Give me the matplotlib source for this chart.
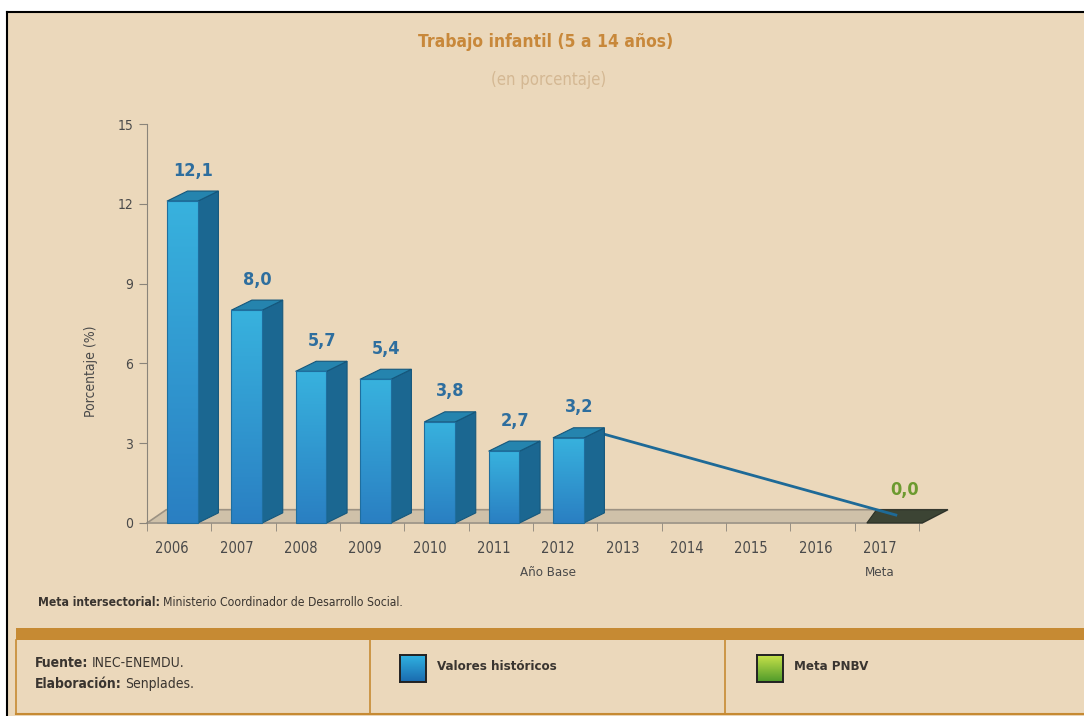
import matplotlib.pyplot as plt
from matplotlib.patches import Polygon, Rectangle
from matplotlib import font_manager
from matplotlib.colors import LinearSegmentedColormap
import numpy as np

# pick a narrow sans if one is installed
fonts = font_manager.fontManager.ttflist
names = {f.name for f in fonts}
if 'Liberation Sans Narrow' in names:
    plt.rcParams['font.family'] = ['Liberation Sans Narrow', 'DejaVu Sans']
elif any(f.name == 'DejaVu Sans' and f.stretch == 'condensed' for f in fonts):
    plt.rcParams['font.family'] = ['DejaVu Sans']
    plt.rcParams['font.stretch'] = 'condensed'
else:
    plt.rcParams['font.family'] = ['Liberation Sans', 'DejaVu Sans']

years = ['2006', '2007', '2008', '2009', '2010', '2011', '2012',
         '2013', '2014', '2015', '2016', '2017']
hist_values = [12.1, 8.0, 5.7, 5.4, 3.8, 2.7, 3.2]
hist_labels = ['12,1', '8,0', '5,7', '5,4', '3,8', '2,7', '3,2']
meta_year = '2017'
meta_value = 0.0
meta_label = '0,0'
yticks = [0, 3, 6, 9, 12, 15]

bg = '#EBD8BB'
brown = '#C68A33'
txt = '#3A3530'
W, H = 1084, 716

fig = plt.figure(figsize=(W / 100, H / 100), dpi=100)
fig.patch.set_facecolor('white')


def fx(x):
    return x / W


def fy(y):
    return 1 - y / H


# page background and outer border
fig.patches.append(Rectangle((fx(7), 0), 1 - fx(7), fy(12), transform=fig.transFigure,
                             facecolor=bg, edgecolor='none', zorder=-5))
fig.add_artist(plt.Line2D([fx(7), 1], [fy(12), fy(12)], color='black', lw=1.5))
fig.add_artist(plt.Line2D([fx(7), fx(7)], [fy(12), 0], color='black', lw=1.5))

lo = -0.39
ax = fig.add_axes([fx(147), fy(523), fx(919) - fx(147), fy(124) - fy(523)], zorder=2)
ax.set_facecolor('none')
for s in ['top', 'right', 'bottom']:
    ax.spines[s].set_visible(False)
ax.spines['left'].set_color('#8A847A')
ax.set_yticks(yticks)
ax.set_yticklabels([str(t) for t in yticks], fontsize=10, color='#4A4A4A')
ax.tick_params(axis='y', length=6, color='#8A847A', pad=4)
ax.set_xticks(range(len(years)))
ax.set_xticklabels(years, fontsize=10.5, color='#4A4A4A')
ax.set_xticks(np.arange(len(years) + 1) + lo, minor=True)
ax.tick_params(axis='x', which='major', length=0, pad=13)
ax.tick_params(axis='x', which='minor', length=6, color='#8A847A')
ax.set_ylabel('Porcentaje (%)', fontsize=10, color='#4A4A4A')
ax.yaxis.set_label_coords(-0.063, 0.38)

# floor
x_end = len(years) + lo + 0.05
dxf, dyf = 0.4, 0.5
floor = Polygon([(lo, 0), (x_end, 0), (x_end + dxf, dyf), (lo + 0.3, dyf)],
                closed=True, facecolor='#CFC1A9', edgecolor='#9C9283', lw=1.2,
                clip_on=False, zorder=1)
ax.add_patch(floor)
ax.plot([lo, x_end], [0, 0], color='#A59C8E', lw=1.2, clip_on=False, zorder=1)

# meta (flat) bar
mi = years.index(meta_year)
meta_poly = Polygon([(mi - 0.2, 0), (x_end, 0), (x_end + dxf, dyf),
                     (mi - 0.05, dyf)], closed=True,
                    facecolor='#3C4434', edgecolor='#2A2F25', lw=0.8,
                    clip_on=False, zorder=2)
ax.add_patch(meta_poly)

# 3D bars
dx, dy = 0.32, 0.38
grad = np.linspace(0, 1, 256).reshape(-1, 1)
bar_cmap = LinearSegmentedColormap.from_list('b', ['#2A7FC2', '#38B2DE'])
for i, v in enumerate(hist_values):
    x0, x1 = i - 0.08, i + 0.40
    side = Polygon([(x1, 0), (x1 + dx, dy), (x1 + dx, v + dy), (x1, v)], closed=True,
                   facecolor='#1B6791', edgecolor='#15577C', lw=0.8, clip_on=False, zorder=3)
    top = Polygon([(x0, v), (x1, v), (x1 + dx, v + dy), (x0 + dx, v + dy)], closed=True,
                  facecolor='#2584AE', edgecolor='#15577C', lw=0.8, clip_on=False, zorder=3)
    front = Polygon([(x0, 0), (x1, 0), (x1, v), (x0, v)], closed=True,
                    facecolor='none', edgecolor='#1F6E9E', lw=0.8, clip_on=False, zorder=4)
    ax.add_patch(side)
    ax.add_patch(top)
    ax.add_patch(front)
    img = ax.imshow(grad, extent=[x0, x1, 0, v], origin='lower', aspect='auto',
                    cmap=bar_cmap, zorder=3.5)
    img.set_clip_path(front)
    ax.text(i + 0.33, v + 1.15, hist_labels[i], ha='center', va='center',
            fontsize=13, fontweight='bold', color='#2E6E9E', zorder=5)

# trend line to target
ax.plot([6 + 0.55, mi + 0.25], [hist_values[-1] + 0.25, meta_value + 0.3],
        color='#1E6A97', lw=2, clip_on=False, zorder=2.5)
ax.text(mi + 0.38, meta_value + 1.25, meta_label, ha='center', va='center',
        fontsize=13, fontweight='bold', color='#6C9A2F', zorder=5)
ax.set_xlim(lo, len(years) + lo)
ax.set_ylim(0, 15)

# sub labels
fig.text(fx(548), fy(573), 'Año Base', ha='center', va='center', fontsize=9.5, color='#4A4A4A')
fig.text(fx(880), fy(573), 'Meta', ha='center', va='center', fontsize=9.5, color='#4A4A4A')

# titles
fig.text(fx(546), fy(42), 'Trabajo infantil (5 a 14 años)', ha='center', va='center',
         fontsize=12.5, fontweight='bold', color='#C8883A')
fig.text(fx(549), fy(80), '(en porcentaje)', ha='center', va='center',
         fontsize=12, color='#D4B893')

renderer = fig.canvas.get_renderer()


def mixed(x, y, bold, normal, size=9):
    t = fig.text(fx(x), fy(y), bold, ha='left', va='center', fontsize=size,
                 fontweight='bold', color=txt)
    bb = t.get_window_extent(renderer)
    fig.text(bb.x1 / W + 0.003, fy(y), normal, ha='left', va='center',
             fontsize=size, color=txt)


mixed(38, 603, 'Meta intersectorial:', 'Ministerio Coordinador de Desarrollo Social.', 8.7)

# footer table
fig.patches.append(Rectangle((fx(16), fy(640)), 1 - fx(16), fy(628) - fy(640),
                             transform=fig.transFigure, facecolor=brown, edgecolor='none'))
for xv in [16, 370, 725]:
    fig.add_artist(plt.Line2D([fx(xv), fx(xv)], [fy(640), fy(714)], color=brown, lw=1.2))
fig.add_artist(plt.Line2D([fx(16), 1], [fy(714), fy(714)], color=brown, lw=1.5))

mixed(35, 663, 'Fuente:', 'INEC-ENEMDU.', 10)
mixed(35, 684, 'Elaboración:', 'Senplades.', 10)

for sx, c0, c1, label in [(400, '#1A6AAE', '#30B2E2', 'Valores históricos'),
                          (757, '#4E9A2A', '#C8E24A', 'Meta PNBV')]:
    sax = fig.add_axes([fx(sx), fy(682), fx(26), fy(655) - fy(682)], zorder=2)
    sax.imshow(grad, origin='lower', aspect='auto',
               cmap=LinearSegmentedColormap.from_list('s', [c0, c1]))
    sax.set_xticks([])
    sax.set_yticks([])
    for sp in sax.spines.values():
        sp.set_color('#222222')
        sp.set_linewidth(1.4)
    fig.text(fx(sx + 37), fy(667), label, ha='left', va='center', fontsize=9.5,
             fontweight='bold', color=txt)

fig.savefig('out.png', dpi=100, facecolor=fig.get_facecolor())
